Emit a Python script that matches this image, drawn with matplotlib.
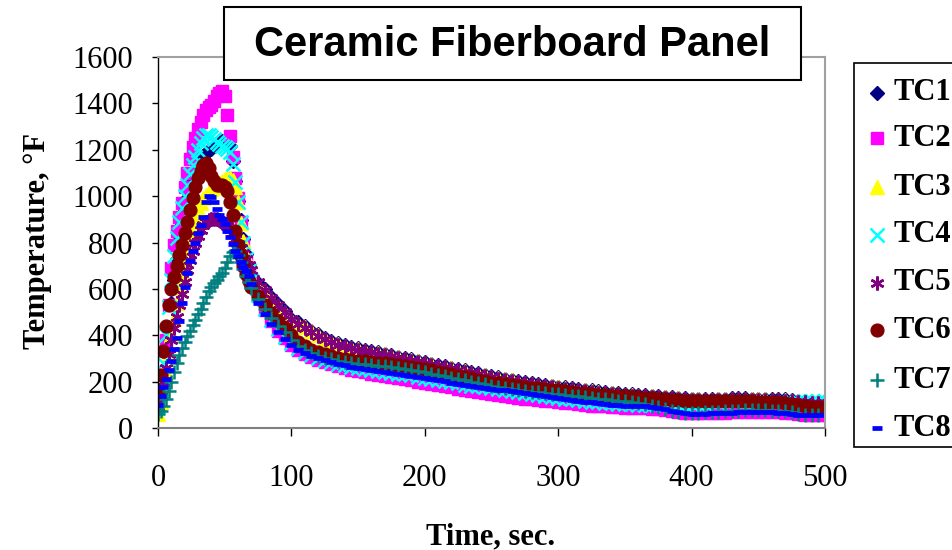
import matplotlib
matplotlib.use("Agg")
import matplotlib.pyplot as plt
from matplotlib.lines import Line2D
from matplotlib.patches import Rectangle

# ---------------- data ----------------
time_s = list(range(0, 71, 2)) + list(range(75, 501, 5))

tc1 = [80,140,220,320,430,540,640,730,810,880,940,990,1035,1075,1110,1140,1160,1175,1188,1198,
       1205,1215,1225,1232,1236,1238,1235,1215,1150,1065,980,895,815,750,700,660,
       625,600,565,535,505,472,455,438,420,404,388,375,
       366,358,350,343,337,331,326,320,314,308,302,296,290,284,
       278,272,266,260,254,248,242,236,230,224,218,213,208,203,198,194,190,186,182,178,
       175,172,168,165,162,158,155,152,150,147,145,143,141,139,137,135,133,131,129,127,
       126,125,125,126,127,128,128,128,127,126,126,125,124,123,120,117,115,114,114,114]
tc2 = [100,150,230,380,530,690,790,850,910,970,1040,1100,1160,1210,1250,1290,1320,1350,1370,1385,
       1395,1410,1430,1445,1455,1430,1350,1260,1170,1080,990,890,800,730,675,630,
       570,510,460,420,388,360,338,320,305,293,283,274,
       266,259,252,246,240,235,230,225,220,215,210,205,200,195,
       190,185,180,175,170,165,160,155,151,147,143,139,135,131,127,124,121,118,115,112,
       109,106,103,100,97,95,93,91,89,88,87,86,85,84,80,76,72,68,65,63,
       63,63,64,65,66,67,68,68,68,68,68,68,67,66,63,60,58,58,58,58]
tc3 = [60,110,170,240,320,400,470,540,610,670,730,785,835,880,915,945,970,990,1005,1018,
       1030,1040,1050,1058,1065,1072,1078,1080,1070,1040,975,885,805,742,693,652,
       615,592,558,528,498,466,450,434,417,401,385,372,
       363,355,347,340,334,328,323,317,311,305,299,293,287,281,
       275,269,263,257,251,245,239,233,227,221,215,210,205,200,195,191,187,183,179,175,
       172,169,165,162,159,155,152,149,147,144,142,140,138,136,134,132,130,128,126,124,
       123,122,122,123,124,125,125,125,124,123,123,122,121,120,118,116,115,116,118,122]
tc4 = [90,170,280,400,520,640,740,820,890,950,1000,1050,1095,1135,1170,1200,1230,1250,1262,1265,
       1255,1245,1235,1225,1215,1210,1205,1190,1140,1060,975,890,800,730,680,640,
       575,515,465,425,392,365,343,326,313,302,293,285,
       278,271,265,260,255,251,247,243,239,235,231,227,222,217,
       212,207,202,197,192,187,183,179,175,171,167,163,159,155,151,147,143,139,135,131,
       127,123,119,116,113,110,108,106,104,103,102,101,100,100,100,100,100,100,100,100,
       102,104,106,108,110,111,112,112,112,112,112,112,112,113,114,116,117,118,118,118]
tc5 = [90,140,200,260,320,380,430,480,530,580,630,680,725,765,800,830,855,875,888,897,
       902,903,900,895,888,880,870,858,840,815,795,775,755,730,705,680,
       630,595,562,530,500,470,450,432,415,398,383,370,
       360,352,345,338,332,326,321,315,309,303,297,291,285,279,
       273,267,261,255,249,243,237,231,224,218,212,207,202,198,193,189,185,181,177,173,
       170,167,163,160,157,153,150,147,145,142,140,138,136,134,132,130,128,126,124,122,
       121,120,120,121,122,123,123,123,122,121,121,120,119,118,115,112,110,108,108,108]
tc6 = [150,230,330,440,530,600,650,700,745,790,840,890,940,990,1040,1080,1110,1135,1145,1120,
       1085,1065,1050,1048,1050,1040,1020,975,920,850,790,740,700,665,635,610,
       570,532,497,463,432,402,372,352,338,327,318,310,
       304,299,295,291,288,285,282,279,276,273,268,263,258,253,
       248,243,238,232,226,220,214,208,202,196,192,188,184,180,177,174,171,168,165,162,
       159,156,153,150,147,144,142,140,138,136,134,132,130,128,126,124,122,120,118,117,
       116,115,115,116,117,118,118,117,115,113,112,111,110,108,104,98,94,92,90,90]
tc7 = [60,75,95,125,160,200,240,280,315,345,370,395,420,445,465,490,515,540,565,590,
       610,625,640,655,670,690,715,740,760,765,745,715,685,655,630,605,
       555,512,475,442,412,380,352,335,322,312,304,297,
       291,286,282,278,275,272,269,266,263,260,255,250,245,240,
       235,229,223,217,211,205,199,193,188,183,178,173,169,165,161,157,154,151,148,145,
       142,139,136,133,130,127,124,121,118,115,112,108,103,97,90,82,75,68,66,66,
       66,67,68,70,72,74,75,76,76,76,76,75,74,72,68,62,58,56,55,55]
tc8 = [100,140,175,210,250,290,340,390,460,540,610,670,720,765,800,840,875,910,975,1000,
       995,975,945,920,900,880,850,825,795,765,740,715,695,675,655,620,
       540,490,448,412,382,356,337,322,310,300,292,284,
       277,270,264,259,254,250,246,242,238,234,230,226,221,216,
       211,206,201,196,191,186,182,178,174,170,166,162,158,154,150,146,142,138,134,130,
       126,122,118,114,110,106,103,101,99,97,96,95,93,90,86,80,74,68,64,62,
       62,62,63,64,65,66,67,67,67,67,67,67,66,65,62,58,57,57,57,57]

labels = ["TC1", "TC2", "TC3", "TC4", "TC5", "TC6", "TC7", "TC8"]
values = [tc1, tc2, tc3, tc4, tc5, tc6, tc7, tc8]
x_ticks = [0, 100, 200, 300, 400, 500]
y_ticks = [0, 200, 400, 600, 800, 1000, 1200, 1400, 1600]
title = "Ceramic Fiberboard Panel"
xlabel = "Time, sec."
ylabel = "Temperature, \u00b0F"

# ---------------- styles ----------------
colors = ["#000080", "#FF00FF", "#FFFF00", "#00FFFF", "#800080", "#800000", "#008080", "#0000FF"]
markers = ["D", "s", "^", "x", (6, 2, 0), "o", "+", "_"]
msizes = [7.4, 8.6, 9.6, 9.4, 10.0, 9.2, 10.0, 7.2]
mews = [1.0, 1.0, 1.0, 1.8, 1.8, 1.0, 1.8, 3.4]

W, H = 953, 550
fig = plt.figure(figsize=(W / 100, H / 100), dpi=100)
fig.patch.set_facecolor("white")

serif = ["Liberation Serif", "DejaVu Serif"]
sans = ["Liberation Sans", "DejaVu Sans"]

ax = fig.add_axes([158 / W, (H - 428) / H, (825 - 158) / W, (428 - 57) / H])
for lab, vals, c, m, ms, mew in zip(labels, values, colors, markers, msizes, mews):
    ax.plot(time_s, vals, linestyle="none", marker=m, markersize=ms,
            markerfacecolor=c, markeredgecolor=c, markeredgewidth=mew, label=lab)

ax.set_xlim(0, 500)
ax.set_ylim(0, 1600)
ax.set_xticks(x_ticks)
ax.set_yticks(y_ticks)
ax.set_xticklabels([str(v) for v in x_ticks], fontfamily=serif, fontsize=22)
ax.set_yticklabels([str(v) for v in y_ticks], fontfamily=serif, fontsize=22)
ax.tick_params(axis="y", direction="out", length=4.5, width=1, pad=13.5, colors="black")
ax.tick_params(axis="x", direction="out", length=5.8, width=1, pad=20, colors="black")
ax.spines["left"].set_color("black")
ax.spines["left"].set_linewidth(1.0)
ax.spines["bottom"].set_color("#808080")
ax.spines["bottom"].set_linewidth(1.5)
for s in ("top", "right"):
    ax.spines[s].set_color("#a0a0a0")
    ax.spines[s].set_linewidth(1.5)

# axis labels
fig.text(491 / W, 1 - 537 / H, xlabel, ha="center", va="center",
         fontfamily=serif, fontweight="bold", fontsize=22)
fig.text(38 / W, 1 - 241 / H, ylabel, ha="center", va="center", rotation=90,
         fontfamily=serif, fontweight="bold", fontsize=22)

# title box
fig.add_artist(Rectangle((224 / W, 1 - 80 / H), (801 - 224) / W, (80 - 7) / H,
                         transform=fig.transFigure, facecolor="white",
                         edgecolor="black", linewidth=1.5, zorder=5))
fig.text(512 / W, 1 - 45 / H, title, ha="center", va="center", fontfamily=sans,
         fontweight="bold", fontsize=30, zorder=6)

# legend
fig.add_artist(Rectangle((854 / W, 1 - 447 / H), (970 - 854) / W, (447 - 63) / H,
                         transform=fig.transFigure, facecolor="white",
                         edgecolor="black", linewidth=1.2, zorder=5, clip_on=False))
leg_y = [93, 138, 187, 235, 283, 330, 380, 428]
for lab, c, m, ms, mew, yy in zip(labels, colors, markers, msizes, mews, leg_y):
    fig.add_artist(Line2D([877 / W], [1 - yy / H], transform=fig.transFigure,
                          linestyle="none", marker=m, markersize=ms,
                          markerfacecolor=c, markeredgecolor=c,
                          markeredgewidth=mew, zorder=6))
    fig.text(894 / W, 1 - yy / H, lab, ha="left", va="center", fontfamily=serif,
             fontweight="bold", fontsize=22, zorder=6)

fig.savefig("out.png", dpi=100)
